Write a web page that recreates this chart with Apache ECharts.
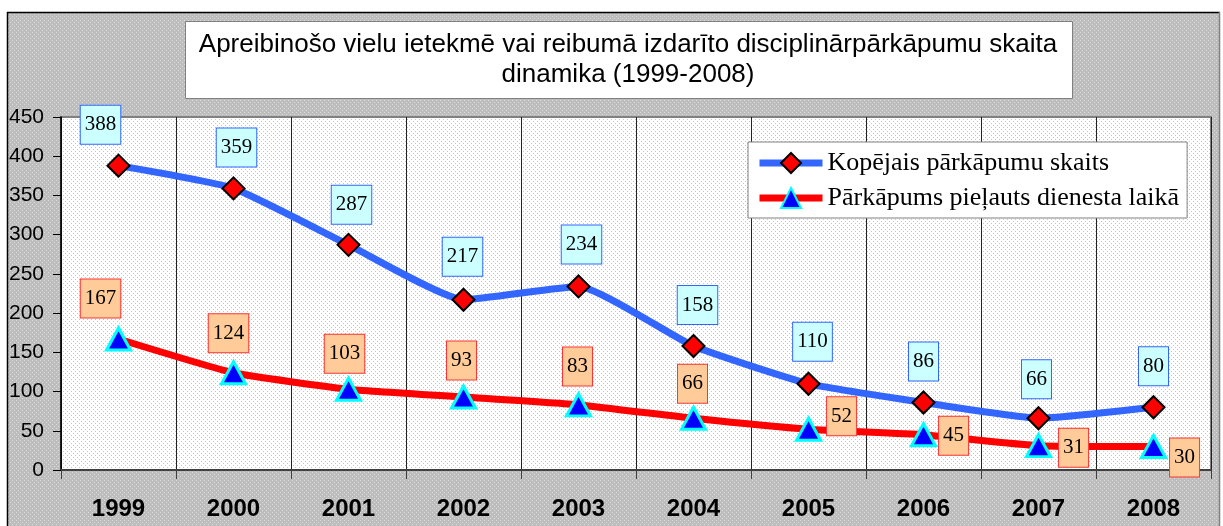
<!DOCTYPE html>
<html lang="lv">
<head>
<meta charset="UTF-8">
<title>Disciplinārpārkāpumu dinamika</title>
<script src="https://cdn.jsdelivr.net/npm/echarts@6.0.0/dist/echarts.min.js"></script>
<style>
  html, body { margin: 0; padding: 0; background: #fff; }
  #chart { width: 1223px; height: 526px; }
</style>
</head>
<body>
<div id="chart"></div>
<script>
// dati
var years = ['1999', '2000', '2001', '2002', '2003', '2004', '2005', '2006', '2007', '2008'];
var totalCount = [388, 359, 287, 217, 234, 158, 110, 86, 66, 80];
var onDuty = [167, 124, 103, 93, 83, 66, 52, 45, 31, 30];

// label tweaks (px), kept apart from the values
var totalShift = [[-18, 0], [3, 0], [3, 1], [-1, -2], [3, -1], [4, 0], [4, -1], [0, 0], [-2, 2], [0, 0]];
var dutyPlace = ['top', 'top', 'top', 'top', 'top', 'top', 'right', 'right', 'right', 'right'];
var dutyShift = [[-18, -3], [-5, -2], [-4, 2], [-2, 1], [-1, -1], [-1, 3], [-1, -13], [-4, 1], [1, 2], [-3, 11]];

// small dotted fills like the excel background
function dots(size, bg, dot, pts) {
    var c = document.createElement('canvas');
    c.width = c.height = size;
    var g = c.getContext('2d');
    g.fillStyle = bg;
    g.fillRect(0, 0, size, size);
    g.fillStyle = dot;
    pts.forEach(function (p) { g.fillRect(p[0], p[1], 1, 1); });
    return { image: c, repeat: 'repeat' };
}
var outerFill = dots(4, '#bdbdbd', '#dcdcdc', [[0, 0], [2, 2]]);
var plotFill = dots(4, '#ffffff', '#c4c4c4', [[1, 1], [3, 3]]);

var labelBase = {
    show: true,
    fontFamily: '"Times New Roman", "Liberation Serif", serif',
    fontSize: 21,
    lineHeight: 22,
    color: '#000',
    borderWidth: 1,
    padding: [8, 4]
};

var chart = echarts.init(document.getElementById('chart'));

chart.setOption({
    animation: false,
    backgroundColor: outerFill,
    title: {
        text: 'Apreibinošo vielu ietekmē vai reibumā izdarīto disciplinārpārkāpumu skaita\ndinamika (1999-2008)',
        left: 628,
        top: 30,
        padding: 0,
        textAlign: 'center',
        textStyle: {
            fontFamily: 'Arial, "Liberation Sans", sans-serif',
            fontSize: 26,
            fontWeight: 'normal',
            lineHeight: 30,
            color: '#000'
        }
    },
    graphic: [
        { type: 'rect', shape: { x: 0, y: 0, width: 1223, height: 12 }, style: { fill: '#fff' }, silent: true },
        { type: 'rect', shape: { x: 0, y: 0, width: 7, height: 526 }, style: { fill: '#fff' }, silent: true },
        { type: 'rect', shape: { x: 1220, y: 0, width: 3, height: 526 }, style: { fill: '#fff' }, silent: true },
        { type: 'line', shape: { x1: 7, y1: 12.5, x2: 1220, y2: 12.5 }, style: { stroke: '#000', lineWidth: 1.5 }, silent: true },
        { type: 'line', shape: { x1: 7.5, y1: 12, x2: 7.5, y2: 526 }, style: { stroke: '#000', lineWidth: 1.5 }, silent: true },
        { type: 'line', shape: { x1: 1219.5, y1: 12, x2: 1219.5, y2: 526 }, style: { stroke: '#808080', lineWidth: 1.5 }, silent: true },
        { type: 'rect', shape: { x: 185.5, y: 21.5, width: 887, height: 77 }, style: { fill: '#fff', stroke: '#808080', lineWidth: 1 }, silent: true }
    ],
    legend: {
        orient: 'vertical',
        left: 748,
        top: 142,
        itemWidth: 63,
        itemHeight: 25,
        itemGap: 5,
        padding: [6, 8, 5, 8],
        backgroundColor: '#fff',
        borderColor: '#808080',
        borderWidth: 1,
        borderRadius: 0,
        lineStyle: { width: 7 },
        textStyle: {
            fontFamily: '"Times New Roman", "Liberation Serif", serif',
            fontSize: 26,
            lineHeight: 30,
            color: '#000'
        },
        data: ['Kopējais pārkāpumu skaits', 'Pārkāpums pieļauts dienesta laikā']
    },
    grid: {
        left: 61,
        top: 117,
        right: 12,
        bottom: 56,
        show: true,
        backgroundColor: plotFill,
        borderColor: '#808080',
        borderWidth: 2,
        containLabel: false,
        outerBoundsMode: 'none'
    },
    xAxis: {
        type: 'category',
        data: years,
        boundaryGap: true,
        axisLine: { show: true, lineStyle: { color: '#404040', width: 2 } },
        axisTick: { show: true, interval: 0, length: 9, lineStyle: { color: '#404040', width: 1 } },
        axisLabel: {
            interval: 0,
            margin: 27,
            fontFamily: 'Arial, "Liberation Sans", sans-serif',
            fontSize: 24,
            lineHeight: 24,
            fontWeight: 'bold',
            color: '#000'
        },
        splitLine: { show: true, interval: 0, lineStyle: { color: '#222', width: 1 } }
    },
    yAxis: {
        type: 'value',
        min: 0,
        max: 450,
        interval: 50,
        axisLine: { show: true, lineStyle: { color: '#000', width: 1.5 } },
        axisTick: { show: true, length: 8, lineStyle: { color: '#000', width: 1 } },
        axisLabel: {
            margin: 17,
            fontFamily: 'Arial, "Liberation Sans", sans-serif',
            fontSize: 21,
            color: '#000'
        },
        splitLine: { show: false }
    },
    series: [
        {
            name: 'Kopējais pārkāpumu skaits',
            type: 'line',
            smooth: 0.15,
            z: 4,
            symbol: 'diamond',
            symbolSize: 22,
            itemStyle: { color: '#FF0000', borderColor: '#000', borderWidth: 2 },
            lineStyle: { color: '#3366FF', width: 7 },
            label: Object.assign({}, labelBase, {
                position: 'top',
                distance: 10,
                backgroundColor: '#CCFFFF',
                borderColor: '#3366FF'
            }),
            emphasis: { disabled: true },
            data: totalCount.map(function (v, i) {
                return { value: v, label: { offset: totalShift[i] } };
            })
        },
        {
            name: 'Pārkāpums pieļauts dienesta laikā',
            type: 'line',
            smooth: 0.15,
            z: 3,
            symbol: 'triangle',
            symbolSize: [24, 22],
            itemStyle: { color: '#0000FF', borderColor: '#00FFFF', borderWidth: 3 },
            lineStyle: { color: '#FF0000', width: 7 },
            label: Object.assign({}, labelBase, {
                distance: 6,
                backgroundColor: '#FFCC99',
                borderColor: '#FF3333'
            }),
            emphasis: { disabled: true },
            data: onDuty.map(function (v, i) {
                return { value: v, label: { position: dutyPlace[i], offset: dutyShift[i] } };
            })
        }
    ]
});
</script>
</body>
</html>
